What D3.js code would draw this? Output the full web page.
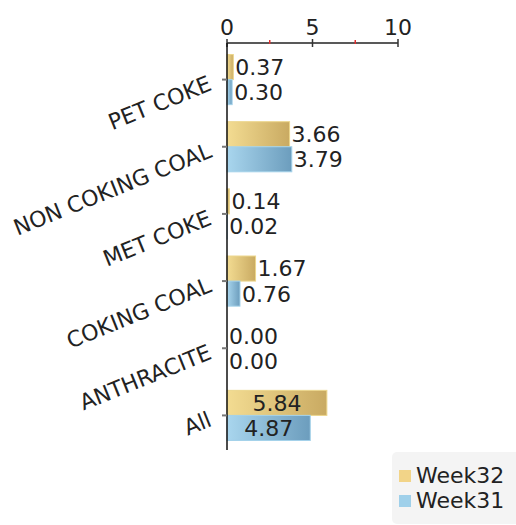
<!DOCTYPE html>
<html>
<head>
<meta charset="utf-8">
<script src="https://cdn.jsdelivr.net/npm/d3@7"></script>
<style>
  body { margin: 0; background: #fff; }
  text { font-family: "DejaVu Sans", Verdana, sans-serif; fill: #222; }
</style>
</head>
<body>
<div id="chart"></div>
<script>
// categories and series
const categories = ['PET COKE', 'NON COKING COAL', 'MET COKE', 'COKING COAL', 'ANTHRACITE', 'All'];
const seriesNames = ['Week32', 'Week31'];
const week32 = [0.37, 3.66, 0.14, 1.67, 0.00, 5.84];
const week31 = [0.30, 3.79, 0.02, 0.76, 0.00, 4.87];
const majorTicks = [0, 5, 10];
const minorTicks = [2.5, 7.5];

const width = 516;
const height = 525;

const svg = d3.select('#chart')
    .append('svg')
    .attr('width', width)
    .attr('height', height);

const defs = svg.append('defs');
function addGradient(id, c1, c2) {
    const g = defs.append('linearGradient')
        .attr('id', id)
        .attr('x1', '0%').attr('x2', '100%')
        .attr('y1', '0%').attr('y2', '0%');
    g.append('stop').attr('offset', '0%').attr('stop-color', c1);
    g.append('stop').attr('offset', '100%').attr('stop-color', c2);
}
addGradient('g32', '#f3dc92', '#c9aa62');
addGradient('g31', '#a9d6ee', '#6c9dbd');

const fills = { Week32: 'url(#g32)', Week31: 'url(#g31)' };
const strokes = { Week32: '#ecd68c', Week31: '#a4d2ea' };
const swatch = { Week32: '#f2d488', Week31: '#9fd0ea' };

const x = d3.scaleLinear().domain([0, 10]).range([227, 398]);
const y = d3.scaleBand().domain(categories).range([46, 449]);
const ySub = d3.scaleBand().domain(seriesNames).range([0, y.bandwidth()]).paddingOuter(0.34).paddingInner(0);

// x axis at top
const axisY = 43;
svg.append('line')
    .attr('x1', x(0)).attr('x2', x(10))
    .attr('y1', axisY).attr('y2', axisY)
    .attr('stroke', '#222').attr('stroke-width', 1.5);
svg.selectAll('.major')
    .data(majorTicks)
    .enter().append('line')
    .attr('x1', d => x(d)).attr('x2', d => x(d))
    .attr('y1', axisY - 4).attr('y2', axisY + 4)
    .attr('stroke', '#333').attr('stroke-width', 1.5);
svg.selectAll('.minor')
    .data(minorTicks)
    .enter().append('line')
    .attr('x1', d => x(d)).attr('x2', d => x(d))
    .attr('y1', axisY - 3).attr('y2', axisY + 1)
    .attr('stroke', '#e03030').attr('stroke-width', 1.5);
svg.selectAll('.xlab')
    .data(majorTicks)
    .enter().append('text')
    .attr('x', d => x(d))
    .attr('y', axisY - 8)
    .attr('text-anchor', 'middle')
    .style('font-size', '22px')
    .text(d => d);

// bars
const rows = categories.map((c, i) => ({ cat: c, values: [
    { s: 'Week32', v: week32[i] },
    { s: 'Week31', v: week31[i] }
] }));

const groups = svg.selectAll('.grp')
    .data(rows)
    .enter().append('g')
    .attr('transform', d => `translate(0,${y(d.cat)})`);

groups.selectAll('rect')
    .data(d => d.values)
    .enter().append('rect')
    .attr('x', x(0))
    .attr('y', d => ySub(d.s))
    .attr('width', d => Math.max(0, x(d.v) - x(0)))
    .attr('height', ySub.bandwidth())
    .attr('fill', d => fills[d.s])
    .attr('stroke', d => d.v > 0 ? strokes[d.s] : 'none')
    .attr('stroke-width', 1);

groups.each(function(row) {
    const inside = row.cat === 'All';
    d3.select(this).selectAll('.val')
        .data(row.values)
        .enter().append('text')
        .attr('x', d => inside ? (x(0) + x(d.v)) / 2 : x(d.v) + 2)
        .attr('y', d => ySub(d.s) + ySub.bandwidth() / 2)
        .attr('dy', '0.36em')
        .attr('text-anchor', inside ? 'middle' : 'start')
        .style('font-size', '22px')
        .text(d => d.v.toFixed(2));
});

// y axis line and category ticks
svg.append('line')
    .attr('x1', x(0)).attr('x2', x(0))
    .attr('y1', axisY).attr('y2', 450)
    .attr('stroke', '#111').attr('stroke-width', 1.5);
svg.selectAll('.ytick')
    .data(categories)
    .enter().append('line')
    .attr('x1', x(0) - 5).attr('x2', x(0))
    .attr('y1', d => y(d) + y.bandwidth() / 2)
    .attr('y2', d => y(d) + y.bandwidth() / 2)
    .attr('stroke', '#777').attr('stroke-width', 2);
svg.selectAll('.ylab')
    .data(categories)
    .enter().append('text')
    .attr('transform', d => `translate(${x(0) - 14},${y(d) + y.bandwidth() / 2 + 10}) rotate(-22)`)
    .attr('text-anchor', 'end')
    .style('font-size', '22px')
    .text(d => d);

// legend
const legend = svg.append('g').attr('transform', 'translate(392,452)');
legend.append('rect')
    .attr('width', 130).attr('height', 72)
    .attr('rx', 5)
    .attr('fill', '#f4f4f4');
seriesNames.forEach((s, i) => {
    legend.append('rect')
        .attr('x', 7).attr('y', 18 + i * 25)
        .attr('width', 12).attr('height', 12)
        .attr('fill', swatch[s]);
    legend.append('text')
        .attr('x', 24).attr('y', 31 + i * 25)
        .style('font-size', '22px')
        .text(s);
});
</script>
</body>
</html>
